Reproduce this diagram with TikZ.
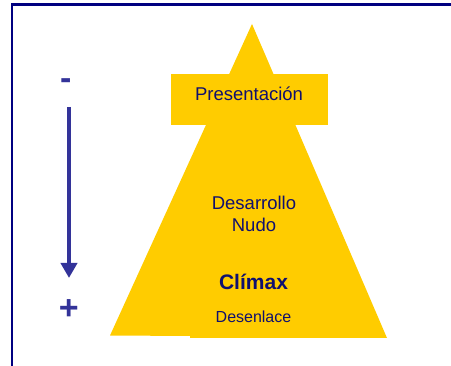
\documentclass[tikz,border=0pt]{standalone}
\usepackage{fontspec}
\setmainfont{Liberation Sans}
\usetikzlibrary{arrows.meta}
\definecolor{navy}{HTML}{000080}
\definecolor{txtblue}{HTML}{10106E}
\definecolor{arrblue}{HTML}{333399}
\definecolor{gold}{HTML}{FFCC00}
\begin{document}
\begin{tikzpicture}[x=1pt,y=-1pt,
  lbl/.style={text=txtblue,inner sep=0pt,anchor=base},
  sign/.style={text=arrblue,inner sep=0pt,anchor=base,font=\fontsize{34}{34}\selectfont\bfseries}]
\useasboundingbox (0,0) rectangle (451,366);
% frame
\draw[navy,line width=2.2pt] (12,370) -- (12,4.5) -- (460,4.5);
% pyramid
\fill[gold] (252,24) -- (387,338) -- (190,338) -- (190,336) -- (110,335.5) -- cycle;
\fill[gold] (171,74) rectangle (328,125);
% texts
\node[lbl,font=\fontsize{18.5}{22}\selectfont] (pres) at (249,101) {Presentación};
\node[lbl,font=\fontsize{18.5}{22}\selectfont] (desa) at (254,210) {Desarrollo};
\node[lbl,font=\fontsize{18.5}{22}\selectfont] (nudo) at (254,232) {Nudo};
\node[lbl,font=\fontsize{21}{24}\selectfont\bfseries] (clim) at (253.5,290) {Clímax};
\node[lbl,font=\fontsize{16}{19}\selectfont] (dese) at (253.5,323) {Desenlace};
% signs and arrow
\node[sign] (minus) at (65.7,89.5) {-};
\node[sign] (plus) at (68.8,319.7) {+};
\coordinate (atop) at (69,107);
\coordinate (abot) at (69,278);
\draw[arrblue,line width=4.3pt,-{Triangle[width=16pt,length=15pt]}] (atop) -- (abot);
\end{tikzpicture}
\end{document}
